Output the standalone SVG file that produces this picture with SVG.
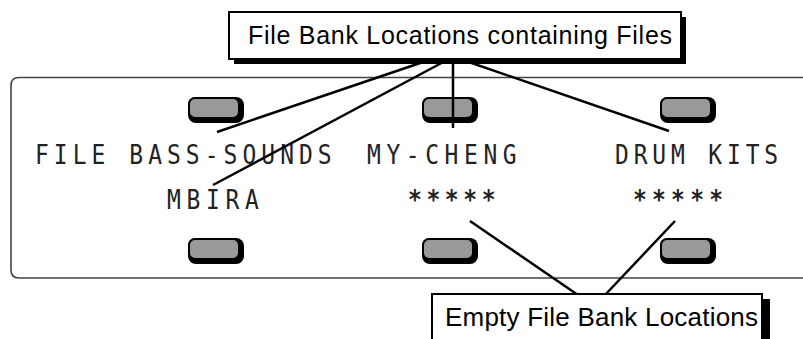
<svg xmlns="http://www.w3.org/2000/svg" width="803" height="339" viewBox="0 0 803 339">
<defs>
<style>
.lbl{font-family:"Liberation Sans",Arial,sans-serif;fill:#000}
.lcd{font-family:"DejaVu Sans Mono","Liberation Mono",monospace;font-size:27px;fill:#222}
.conn{stroke:#000;stroke-width:2.5;fill:none;stroke-linecap:butt}
.btnsh{fill:#000}
.btn{fill:#999;stroke:#000;stroke-width:2}
</style>
<g id="btn">
<rect class="btnsh" x="0" y="0" width="56" height="26" rx="8"/>
<rect class="btn" x="1" y="1" width="50" height="20" rx="6"/>
</g>
</defs>
<rect width="803" height="339" fill="#fff"/>
<g id="panel">
<path d="M803,77.5 H19 Q11,77.5 11,85.5 V270 Q11,278 19,278 H803" fill="none" stroke="#444" stroke-width="1.6"/>
</g>
<g id="buttons">
<use href="#btn" x="188" y="97"/>
<use href="#btn" x="422" y="97"/>
<use href="#btn" x="660" y="97"/>
<use href="#btn" x="188" y="238"/>
<use href="#btn" x="422" y="238"/>
<use href="#btn" x="660" y="238"/>
</g>
<g id="lcd-text" transform="scale(0.85,1)">
<text class="lcd" x="41.2" y="164" textLength="349">FILE BASS-SOUNDS</text>
<text class="lcd" x="431.8" y="164" textLength="176">MY-CHENG</text>
<text class="lcd" x="723.5" y="164" textLength="192">DRUM KITS</text>
<text class="lcd" x="196.5" y="209" textLength="108">MBIRA</text>
<text class="lcd" x="480" y="209" textLength="103" font-weight="bold">*****</text>
<text class="lcd" x="744.7" y="209" textLength="106" font-weight="bold">*****</text>
</g>
<g id="connectors">
<line class="conn" x1="432" y1="59" x2="217" y2="132"/>
<line class="conn" x1="449" y1="59" x2="213" y2="185"/>
<line class="conn" x1="453" y1="59" x2="453" y2="128"/>
<line class="conn" x1="460" y1="59" x2="669" y2="131"/>
<line class="conn" x1="470" y1="221" x2="578" y2="295"/>
<line class="conn" x1="675" y1="221" x2="605" y2="295"/>
</g>
<g id="node-top">
<rect x="234" y="17" width="452" height="47" fill="#000"/>
<rect x="229" y="12" width="452" height="47" fill="#fff" stroke="#000" stroke-width="2"/>
<text class="lbl" x="248" y="44" font-size="25" textLength="424">File Bank Locations containing Files</text>
</g>
<g id="node-bottom">
<rect x="438" y="299" width="332" height="60" fill="#000"/>
<rect x="432" y="294" width="330" height="60" fill="#fff" stroke="#000" stroke-width="2"/>
<text class="lbl" x="445" y="326" font-size="26" textLength="313">Empty File Bank Locations</text>
</g>
</svg>
